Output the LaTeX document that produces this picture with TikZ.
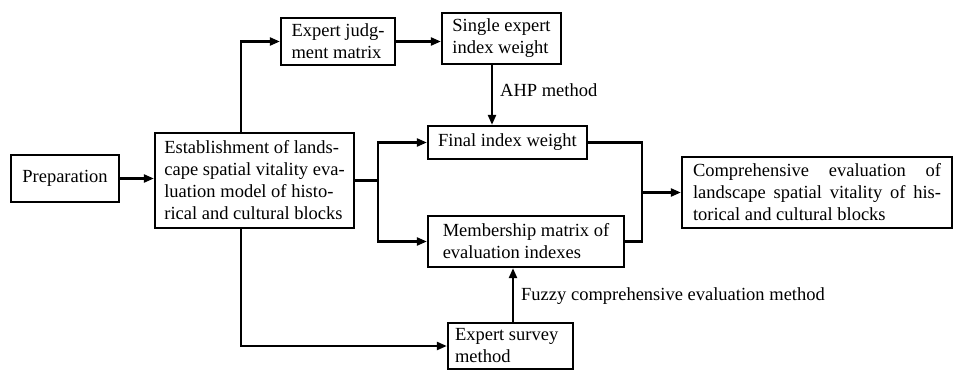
\documentclass[tikz,border=0pt]{standalone}
\usepackage{fontspec}
\setmainfont{Liberation Serif}
\usetikzlibrary{arrows.meta,calc}
\begin{document}
\begin{tikzpicture}[x=1pt,y=-1pt,
  box/.style={draw,line width=2.3pt,rectangle,inner xsep=4pt,inner ysep=2pt,align=left,anchor=center,
    font=\fontsize{18.5}{22}\selectfont},
  conn/.style={line width=2.3pt,-{Triangle[length=10pt,width=8pt]}},
  plain/.style={line width=2.3pt},
  lbl/.style={font=\fontsize{18.5}{22}\selectfont,anchor=west,inner sep=0pt}]
\useasboundingbox (0,0) rectangle (970,370);
\node[box,minimum width=108pt,minimum height=47pt] (prep) at (65,178.5) {Preparation};
\node[box,minimum width=199pt,minimum height=95pt] (estab) at (254.5,180.5)
  {Establishment of lands-\\cape spatial vitality eva-\\luation model of histo-\\rical and cultural blocks};
\node[box,minimum width=114pt,minimum height=47pt] (ejm) at (338,41.5) {Expert judg-\\ment matrix};
\node[box,minimum width=119pt,minimum height=51pt] (sei) at (501.5,38.5) {Single expert\\index weight};
\node[box,minimum width=159pt,minimum height=33pt] (fiw) at (507.5,142.5) {Final index weight};
\node[box,minimum width=196pt,minimum height=51pt] (mem) at (526,241.5) {Membership matrix of\\evaluation indexes};
\node[box,minimum width=125pt,minimum height=46pt] (esm) at (510.5,346) {Expert survey\\method\hspace*{3em}};
\node[box,minimum width=270pt,minimum height=71pt] (comp) at (817,192.5)
  {\makebox[248pt][s]{Comprehensive evaluation of}\\\makebox[248pt][s]{landscape spatial vitality of his-}\\torical and cultural blocks};
\coordinate (split1) at (378,180.5);
\coordinate (join1) at (642,192.5);
\draw[conn] (prep) -- (estab.west |- prep);
\draw[conn] ([xshift=-13.5pt]estab.north) |- (ejm.west);
\draw[conn] (ejm.east) -- (ejm.east -| sei.west);
\draw[conn] (sei.south -| 492,0) -- (fiw.north -| 492,0);
\node[lbl] (ahp) at (500,90) {AHP method};
\draw[plain] (estab.east |- split1) -- (split1);
\draw[conn] (split1) |- (fiw.west);
\draw[conn] (split1) |- (mem.west);
\draw[plain] (fiw.east) -| (join1) |- (mem.east);
\draw[conn] (join1) -- (comp.west);
\draw[conn] ([xshift=-13.5pt]estab.south) |- (esm.west);
\draw[conn] (esm.north -| 513,0) -- (mem.south -| 513,0);
\node[lbl] (fuzzy) at (521,296) {Fuzzy comprehensive evaluation method};
\end{tikzpicture}
\end{document}
